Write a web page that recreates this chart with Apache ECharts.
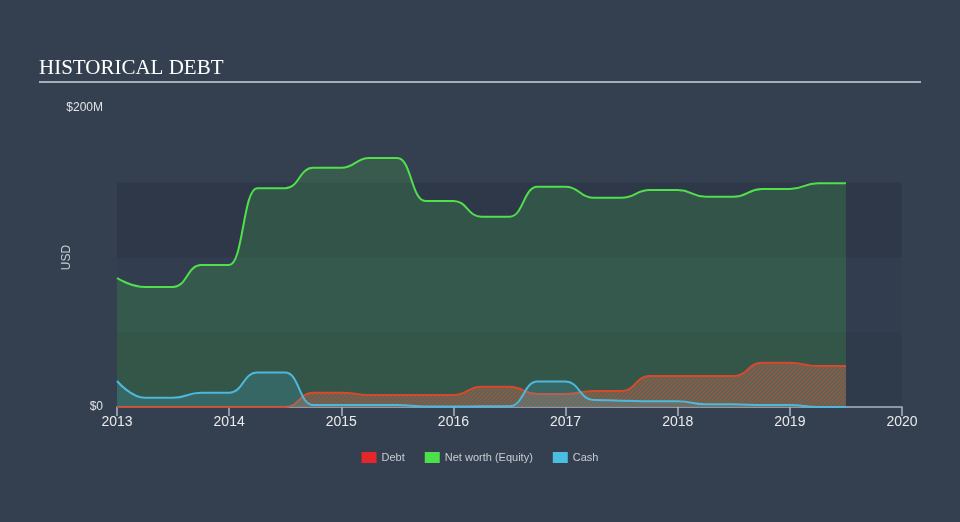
<!DOCTYPE html>
<html><head><meta charset="utf-8">
<script src="https://cdn.jsdelivr.net/npm/echarts@6/dist/echarts.min.js"></script>
<style>html,body{margin:0;padding:0;background:#344050;}#c{width:960px;height:522px;}</style>
</head><body><div id="c"></div>
<script>
const quarters = [2013,2013.25,2013.5,2013.75,2014,2014.25,2014.5,2014.75,2015,2015.25,2015.5,2015.75,2016,2016.25,2016.5,2016.75,2017,2017.25,2017.5,2017.75,2018,2018.25,2018.5,2018.75,2019,2019.25,2019.5];
const debt   = [0,0,0,0,0,0,0,9.6,9.6,8,8,8,8,13.6,13.6,8.7,8.7,10.7,10.7,20.7,20.7,20.7,20.7,29.6,29.6,27.4,27.4];
const equity = [86.3,80.3,80.3,95,95,146.4,146.4,160,160,166.6,166.6,137.8,137.8,127.3,127.3,147.4,147.4,140,140,145.2,145.2,140.7,140.7,145.8,145.8,149.6,149.6];
const cash   = [17.4,6.2,6.2,9.6,9.6,23,23,1.3,1.3,1.3,1.3,0.3,0.3,0.5,0.5,17,17,4.7,4.2,3.8,3.8,1.8,1.8,1.3,1.3,0,0];
const xTicks = [2013,2014,2015,2016,2017,2018,2019,2020];
const seriesNames = ['Debt','Net worth (Equity)','Cash'];

function pairs(vals){ return quarters.map((q,i)=>[q, vals[i]]); }
function hatch(){
  const c=document.createElement('canvas'); c.width=4; c.height=4;
  const g=c.getContext('2d');
  g.fillStyle='rgb(92,104,90)'; g.fillRect(0,0,4,4);
  g.strokeStyle='#ad573b'; g.lineWidth=1.1;
  g.beginPath();
  g.moveTo(0,4); g.lineTo(4,0);
  g.moveTo(-2,2); g.lineTo(2,-2);
  g.moveTo(2,6); g.lineTo(6,2);
  g.stroke();
  return c;
}
const chart = echarts.init(document.getElementById('c'), null, {renderer:'canvas'});
chart.setOption({
  backgroundColor:'#344050',
  animation:false,
  title:{text:'HISTORICAL DEBT', left:34, top:53,
    textStyle:{fontFamily:'Liberation Serif', fontSize:21, fontWeight:'normal', color:'#ffffff'}},
  graphic:[{type:'line', shape:{x1:39,y1:82,x2:921,y2:82}, style:{stroke:'#a7aeb6', lineWidth:2}}],
  legend:{data:seriesNames, left:'center', top:447, icon:'rect', itemWidth:15, itemHeight:11, itemGap:20,
    textStyle:{color:'#c8ccd2', fontSize:11, fontFamily:'Liberation Sans'}},
  grid:{left:117, right:58, top:108, bottom:115, containLabel:false},
  xAxis:{type:'value', min:2013, max:2020, interval:1,
    axisLine:{lineStyle:{color:'#aab4c2', width:1.5}},
    axisTick:{length:9, lineStyle:{color:'#aab4c2', width:1.5}},
    axisLabel:{color:'#e8eaec', fontSize:14, margin:8, fontFamily:'Liberation Sans', formatter:v=>String(v)},
    splitLine:{show:false}},
  yAxis:{type:'value', min:0, max:200, interval:50,
    name:'USD', nameLocation:'middle', nameGap:44, nameRotate:90, nameMoveOverlap:false,
    nameTextStyle:{color:'#c8ccd2', fontSize:12, fontFamily:'Liberation Sans'},
    axisLine:{show:false}, axisTick:{show:false},
    axisLabel:{color:'#e0e2e6', fontSize:12, margin:14, fontFamily:'Liberation Sans',
      formatter:v=> v===0?'$0':(v===200?'$200M':'')},
    splitLine:{show:false},
    splitArea:{show:true, areaStyle:{color:['#2f3a4a','#323e4f','#2e3849','rgba(0,0,0,0)']}}},
  series:[
    {name:'Net worth (Equity)', type:'line', data:pairs(equity), smooth:0.5, smoothMonotone:'x', showSymbol:false, z:2,
      itemStyle:{color:'#4ce04a'}, lineStyle:{color:'#4fe04c', width:2},
      areaStyle:{color:'rgba(76,224,74,0.24)'}},
    {name:'Debt', type:'line', data:pairs(debt), smooth:0.5, smoothMonotone:'x', showSymbol:false, z:3,
      itemStyle:{color:'#e5262b'}, lineStyle:{color:'#d54a2c', width:2},
      areaStyle:{color:{image:hatch(), repeat:'repeat'}, opacity:0.9}},
    {name:'Cash', type:'line', data:pairs(cash), smooth:0.5, smoothMonotone:'x', showSymbol:false, z:4,
      itemStyle:{color:'#4bbde0'}, lineStyle:{color:'#4cb8dc', width:2},
      areaStyle:{color:'rgba(75,189,224,0.25)'}}
  ]
});
</script></body></html>
